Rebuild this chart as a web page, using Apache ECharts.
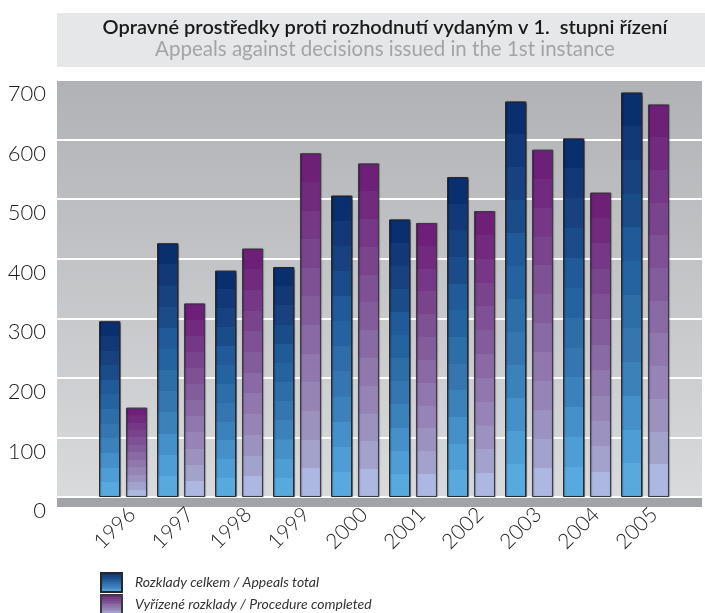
<!DOCTYPE html>
<html>
<head>
<meta charset="utf-8">
<script src="https://cdn.jsdelivr.net/npm/echarts@6/dist/echarts.min.js"></script>
<style>
  html, body { margin: 0; padding: 0; background: #fff; }
  #chart { width: 705px; height: 613px; }
</style>
</head>
<body>
<div id="chart"></div>
<script>
const years      = ['1996', '1997', '1998', '1999', '2000', '2001', '2002', '2003', '2004', '2005'];
const total      = [295, 426, 380, 386, 506, 466, 537, 664, 602, 679];
const completed  = [150, 325, 417, 577, 560, 460, 480, 583, 511, 659];
const yTicks     = [0, 100, 200, 300, 400, 500, 600, 700];
const seriesNames = ['Rozklady celkem / Appeals total', 'Vyřízené rozklady / Procedure completed'];

// stepped colours, top band first
const blueBands   = ['#0a2f6e', '#123878', '#17427f', '#1b4c8a', '#205a98', '#2563a0',
                     '#2d6da8', '#3576b0', '#3b82bb', '#4590c8', '#4e9dd5', '#58aade'];
const purpleBands = ['#6e2078', '#722a7e', '#763886', '#7a448c', '#7e5094', '#835c9c',
                     '#8a6aa4', '#9078ae', '#9784b6', '#9c92c0', '#a3a2cc', '#adb8e2'];

function banded(colors) {
    const n = colors.length;
    const stops = [];
    colors.forEach((c, i) => {
        stops.push({ offset: i / n, color: c });
        stops.push({ offset: (i + 1) / n - 0.0001, color: c });
    });
    return new echarts.graphic.LinearGradient(0, 0, 0, 1, stops);
}

const font = 'Lato, "Noto Sans", sans-serif';
const chart = echarts.init(document.getElementById('chart'));

const legendText = { fontFamily: font, fontStyle: 'italic', fontSize: 14, color: '#333', padding: [0, 0, 0, 8] };

const option = {
    animation: false,
    graphic: [
        { type: 'rect', left: 57, top: 13, shape: { width: 648, height: 54 }, style: { fill: '#e6e7e8' }, silent: true },
        { type: 'text', x: 385, y: 18, style: { text: 'Opravné prostředky proti rozhodnutí vydaným v 1.  stupni řízení',
            textAlign: 'center', font: '600 20px ' + font, fill: '#1a1a1a' } },
        { type: 'text', x: 385, y: 39, style: { text: 'Appeals against decisions issued in the 1st instance',
            textAlign: 'center', font: '20.5px ' + font, fill: '#a3a4a6' } }
    ],
    legend: [
        { left: 100, top: 572, padding: 0, itemWidth: 21, itemHeight: 19, icon: 'rect', textStyle: legendText, data: [seriesNames[0]] },
        { left: 100, top: 594, padding: 0, itemWidth: 21, itemHeight: 19, icon: 'rect', textStyle: legendText, data: [seriesNames[1]] }
    ],
    grid: [
        { left: 57, right: 3, top: 80, bottom: 116, show: true, borderWidth: 0,
          backgroundColor: new echarts.graphic.LinearGradient(0, 0, 0, 1, [
              { offset: 0, color: '#b1b2b5' }, { offset: 1, color: '#d9dadc' }]) },
        { left: 94, right: 31, top: 80, bottom: 116 },
        // floor strip under the bars
        { left: 57, right: 3, top: 498, height: 9, show: true, borderWidth: 0, backgroundColor: '#a2a3a6' },
        // label row, shifted a little to the right like the original
        { left: 103, right: 22, top: 80, bottom: 116 }
    ],
    xAxis: [
        { gridIndex: 0, type: 'value', show: false },
        { gridIndex: 1, type: 'category', data: years,
          axisLine: { show: false }, axisTick: { show: false }, axisLabel: { show: false } },
        { gridIndex: 2, type: 'value', show: false },
        { gridIndex: 3, type: 'category', data: years,
          axisLine: { show: false }, axisTick: { show: false },
          axisLabel: { rotate: 45, margin: 14, fontFamily: font, fontWeight: 300, fontSize: 21, color: '#1e1e1e' } }
    ],
    yAxis: [
        { gridIndex: 0, type: 'value', min: yTicks[0], max: yTicks[yTicks.length - 1], interval: 100,
          axisLine: { show: false }, axisTick: { show: false },
          axisLabel: { margin: 11, verticalAlign: 'top', padding: [3, 0, 0, 0],
                       fontFamily: font, fontWeight: 300, fontSize: 22, color: '#1e1e1e' },
          splitLine: { lineStyle: { color: '#ffffff', width: 2 } } },
        { gridIndex: 1, type: 'value', min: 0, max: 700, show: false, splitLine: { show: false } },
        { gridIndex: 2, type: 'value', show: false, splitLine: { show: false } },
        { gridIndex: 3, type: 'value', show: false, splitLine: { show: false } }
    ],
    series: [
        { name: seriesNames[0], type: 'bar', xAxisIndex: 1, yAxisIndex: 1, data: total,
          barWidth: 21, barGap: '28%',
          itemStyle: { color: banded(blueBands), borderColor: '#26262c', borderWidth: 1,
                       shadowColor: 'rgba(0,0,0,0.35)', shadowOffsetX: 1, shadowBlur: 1 } },
        { name: seriesNames[1], type: 'bar', xAxisIndex: 1, yAxisIndex: 1, data: completed,
          barWidth: 21,
          itemStyle: { color: banded(purpleBands), borderColor: '#3a3a42', borderWidth: 1,
                       shadowColor: 'rgba(0,0,0,0.35)', shadowOffsetX: 1, shadowBlur: 1 } }
    ]
};

chart.setOption(option);
</script>
</body>
</html>
